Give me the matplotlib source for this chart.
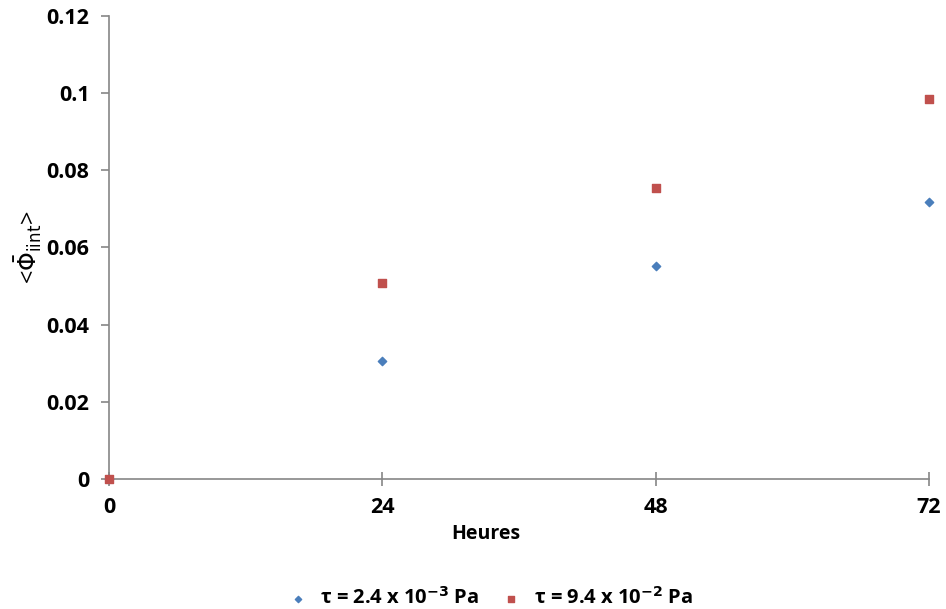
import matplotlib
matplotlib.use("Agg")
import matplotlib.pyplot as plt

plt.rcParams['font.family'] = ['Open Sans', 'DejaVu Sans']

hours = [0, 24, 48, 72]
phi_low = [0.0, 0.0306, 0.0552, 0.0718]
phi_high = [0.0, 0.0508, 0.0754, 0.0985]
label_low = r"τ = 2.4 x 10$^{\mathbf{-3}}$ Pa"
label_high = r"τ = 9.4 x 10$^{\mathbf{-2}}$ Pa"
yticks = [0, 0.02, 0.04, 0.06, 0.08, 0.1, 0.12]
ytick_labels = ["0", "0.02", "0.04", "0.06", "0.08", "0.1", "0.12"]

fig = plt.figure(figsize=(9.46, 6.09), dpi=100)
ax = fig.add_axes([0.1152, 0.2135, 0.8668, 0.7602])

ax.scatter(hours, phi_low, marker="D", s=18, color="#4a7ebb", label=label_low,
           zorder=3, clip_on=False)
ax.scatter(hours, phi_high, marker="s", s=36, color="#c0504d", label=label_high,
           zorder=3, clip_on=False)

ax.set_xlim(0, 72)
ax.set_ylim(0, 0.12)
ax.set_xticks(hours)
ax.set_yticks(yticks)
ax.set_yticklabels(ytick_labels)

for s in ["top", "right"]:
    ax.spines[s].set_visible(False)
for s in ["left", "bottom"]:
    ax.spines[s].set_color("#868686")
    ax.spines[s].set_linewidth(1.2)

ax.tick_params(axis="y", direction="out", length=6, color="#868686", width=1.2,
               labelsize=15.5, pad=8)
ax.tick_params(axis="x", direction="inout", length=10, color="#868686", width=1.2,
               labelsize=15.5, pad=8)
for lbl in ax.get_xticklabels() + ax.get_yticklabels():
    lbl.set_fontweight("bold")

ax.set_xlabel("Heures", fontsize=14, fontweight="bold", labelpad=4)
ax.xaxis.set_label_coords(0.459, -0.098)
ax.set_ylabel(r"<$\bar{\Phi}_{\mathrm{iint}}$>", fontsize=17, labelpad=2)

leg = fig.legend(loc="lower center", bbox_to_anchor=(0.513, -0.03), ncol=2,
                 frameon=False, prop={"size": 14.5, "weight": "bold"},
                 handletextpad=0.1, columnspacing=0.6, markerscale=0.75)

fig.savefig("out.png", dpi=100)
